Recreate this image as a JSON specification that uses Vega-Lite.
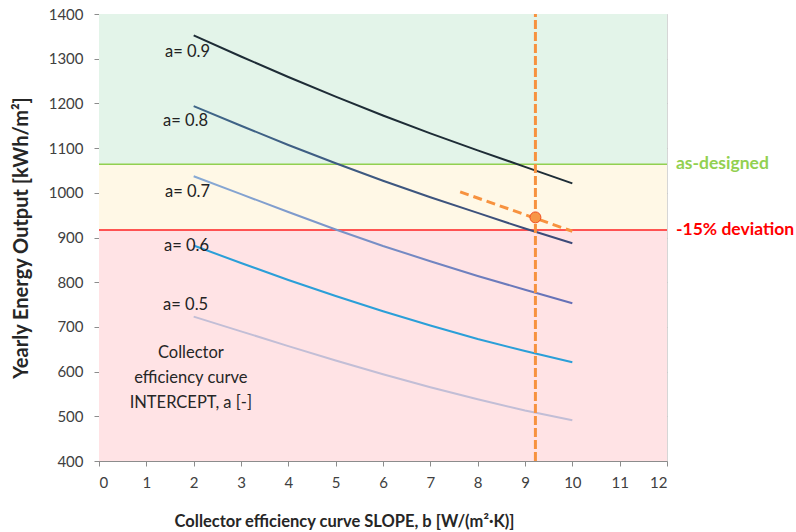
{
  "$schema": "https://vega.github.io/schema/vega-lite/v6.json",
  "width": 568,
  "height": 447,
  "autosize": {"type": "none"},
  "padding": {"left": 99, "top": 14, "right": 129, "bottom": 71},
  "background": "white",
  "config": {
    "font": "Lato",
    "view": {"stroke": null},
    "axis": {
      "grid": true,
      "gridColor": "#b4b4b4",
      "gridOpacity": 0.55,
      "domainColor": "#8c8c8c",
      "tickColor": "#8c8c8c",
      "tickSize": 5,
      "labelFont": "Lato",
      "labelFontSize": 15,
      "labelColor": "#404040",
      "titleFont": "Lato",
      "titleFontWeight": "bold",
      "titleColor": "#262626",
      "zindex": 1
    }
  },
  "datasets": {
    "bands": [
      {"band": "ok", "b": 0, "b2": 12, "E": 1064, "E2": 1400},
      {"band": "warn", "b": 0, "b2": 12, "E": 917, "E2": 1064},
      {"band": "bad", "b": 0, "b2": 12, "E": 400, "E2": 917}
    ],
    "curves": [
      {"a": 0.9, "b": 2, "E": 1352}, {"a": 0.9, "b": 3, "E": 1305}, {"a": 0.9, "b": 4, "E": 1259}, {"a": 0.9, "b": 5, "E": 1215}, {"a": 0.9, "b": 6, "E": 1173}, {"a": 0.9, "b": 7, "E": 1133}, {"a": 0.9, "b": 8, "E": 1095}, {"a": 0.9, "b": 9, "E": 1058}, {"a": 0.9, "b": 10, "E": 1021},
      {"a": 0.8, "b": 2, "E": 1194}, {"a": 0.8, "b": 3, "E": 1150}, {"a": 0.8, "b": 4, "E": 1107}, {"a": 0.8, "b": 5, "E": 1066}, {"a": 0.8, "b": 6, "E": 1027}, {"a": 0.8, "b": 7, "E": 990}, {"a": 0.8, "b": 8, "E": 955}, {"a": 0.8, "b": 9, "E": 920}, {"a": 0.8, "b": 10, "E": 887},
      {"a": 0.7, "b": 2, "E": 1037}, {"a": 0.7, "b": 3, "E": 997}, {"a": 0.7, "b": 4, "E": 957}, {"a": 0.7, "b": 5, "E": 918}, {"a": 0.7, "b": 6, "E": 881}, {"a": 0.7, "b": 7, "E": 847}, {"a": 0.7, "b": 8, "E": 814}, {"a": 0.7, "b": 9, "E": 783}, {"a": 0.7, "b": 10, "E": 753},
      {"a": 0.6, "b": 2, "E": 882}, {"a": 0.6, "b": 3, "E": 843}, {"a": 0.6, "b": 4, "E": 805}, {"a": 0.6, "b": 5, "E": 769}, {"a": 0.6, "b": 6, "E": 735}, {"a": 0.6, "b": 7, "E": 703}, {"a": 0.6, "b": 8, "E": 673}, {"a": 0.6, "b": 9, "E": 646}, {"a": 0.6, "b": 10, "E": 621},
      {"a": 0.5, "b": 2, "E": 723}, {"a": 0.5, "b": 3, "E": 690}, {"a": 0.5, "b": 4, "E": 657}, {"a": 0.5, "b": 5, "E": 625}, {"a": 0.5, "b": 6, "E": 594}, {"a": 0.5, "b": 7, "E": 565}, {"a": 0.5, "b": 8, "E": 538}, {"a": 0.5, "b": 9, "E": 513}, {"a": 0.5, "b": 10, "E": 491}
    ],
    "alabels": [
      {"b": 1.87, "E": 1316, "text": "a= 0.9"},
      {"b": 1.83, "E": 1161, "text": "a= 0.8"},
      {"b": 1.87, "E": 1002, "text": "a= 0.7"},
      {"b": 1.85, "E": 881, "text": "a= 0.6"},
      {"b": 1.83, "E": 749, "text": "a= 0.5"}
    ],
    "note": [
      {"b": 1.94, "E": 642, "text": "Collector"},
      {"b": 1.94, "E": 586, "text": "efficiency curve"},
      {"b": 1.94, "E": 530, "text": "INTERCEPT, a [-]"}
    ],
    "thresholds": [
      {"kind": "as-designed", "b": 0, "b2": 12, "E": 1064},
      {"kind": "-15% deviation", "b": 0, "b2": 12, "E": 917}
    ],
    "tlabels": [
      {"kind": "as-designed", "b": 12.19, "E": 1064},
      {"kind": "-15% deviation", "b": 12.19, "E": 917}
    ],
    "operating": [{"b": 9.22, "E": 945, "Elo": 400, "Ehi": 1400}],
    "trend": [{"b": 7.63, "E": 1002}, {"b": 10.0, "E": 914}]
  },
  "encoding": {
    "x": {
      "field": "b",
      "type": "quantitative",
      "scale": {"domain": [0, 12], "nice": false, "zero": false},
      "axis": {
        "title": "Collector efficiency curve SLOPE, b [W/(m²·K)]",
        "titleFontSize": 16.5,
        "values": [0, 1, 2, 3, 4, 5, 6, 7, 8, 9, 10, 11, 12],
        "labelPadding": 9,
        "titleX": 245,
        "titleY": 60,
        "titleAlign": "center",
        "titleBaseline": "middle"
      }
    },
    "y": {
      "field": "E",
      "type": "quantitative",
      "scale": {"domain": [400, 1400], "nice": false, "zero": false},
      "axis": {
        "title": "Yearly Energy Output [kWh/m²]",
        "titleFontSize": 20,
        "format": "d",
        "values": [400, 500, 600, 700, 800, 900, 1000, 1100, 1200, 1300, 1400],
        "labelPadding": 11,
        "titlePadding": 17
      }
    }
  },
  "layer": [
    {
      "data": {"name": "bands"},
      "mark": {"type": "rect"},
      "encoding": {
        "x2": {"field": "b2"},
        "y2": {"field": "E2"},
        "color": {
          "field": "band",
          "type": "nominal",
          "scale": {"domain": ["ok", "warn", "bad"], "range": ["#e3f4e9", "#fff8e6", "#ffe3e5"]},
          "legend": null
        }
      }
    },
    {
      "data": {"name": "thresholds"},
      "mark": {"type": "rule", "strokeWidth": 1.5},
      "encoding": {
        "x2": {"field": "b2"},
        "color": {
          "field": "kind",
          "type": "nominal",
          "scale": {"domain": ["as-designed", "-15% deviation"], "range": ["#92d050", "#ff2020"]},
          "legend": null
        }
      }
    },
    {
      "data": {"name": "tlabels"},
      "mark": {"type": "text", "align": "left", "baseline": "middle", "fontWeight": "bold", "fontSize": 17.5},
      "encoding": {
        "text": {"field": "kind"},
        "color": {
          "field": "kind",
          "type": "nominal",
          "scale": {"domain": ["as-designed", "-15% deviation"], "range": ["#92d050", "#ff0000"]},
          "legend": null
        }
      }
    },
    {
      "data": {"name": "curves"},
      "transform": [{"filter": "datum.a == 0.5"}],
      "mark": {"type": "line", "strokeWidth": 2, "color": "#c2bed6"}
    },
    {
      "data": {"name": "curves"},
      "transform": [{"filter": "datum.a == 0.6"}],
      "mark": {"type": "line", "strokeWidth": 2, "color": "#2b9fd8"}
    },
    {
      "data": {"name": "curves"},
      "transform": [{"filter": "datum.a == 0.7"}],
      "mark": {
        "type": "line",
        "strokeWidth": 2,
        "color": {
          "gradient": "linear", "x1": 0, "y1": 0, "x2": 1, "y2": 0,
          "stops": [{"offset": 0, "color": "#88aad4"}, {"offset": 1, "color": "#6570b6"}]
        }
      }
    },
    {
      "data": {"name": "curves"},
      "transform": [{"filter": "datum.a == 0.8"}],
      "mark": {
        "type": "line",
        "strokeWidth": 2,
        "color": {
          "gradient": "linear", "x1": 0, "y1": 0, "x2": 1, "y2": 0,
          "stops": [{"offset": 0, "color": "#3f6688"}, {"offset": 1, "color": "#3c4a78"}]
        }
      }
    },
    {
      "data": {"name": "curves"},
      "transform": [{"filter": "datum.a == 0.9"}],
      "mark": {"type": "line", "strokeWidth": 2, "color": "#1e2c36"}
    },
    {
      "data": {"name": "alabels"},
      "mark": {"type": "text", "align": "center", "baseline": "middle", "fontSize": 16.5, "color": "#222222"},
      "encoding": {"text": {"field": "text"}}
    },
    {
      "data": {"name": "note"},
      "mark": {"type": "text", "align": "center", "baseline": "middle", "fontSize": 16.5, "color": "#262626"},
      "encoding": {"text": {"field": "text"}}
    },
    {
      "data": {"name": "operating"},
      "mark": {"type": "rule", "strokeWidth": 3, "strokeDash": [9, 3], "color": "#f7923f"},
      "encoding": {"y": {"field": "Elo"}, "y2": {"field": "Ehi"}}
    },
    {
      "data": {"name": "trend"},
      "mark": {"type": "line", "strokeWidth": 3, "strokeDash": [9, 5], "color": "#f7923f"}
    },
    {
      "data": {"name": "operating"},
      "mark": {"type": "point", "filled": true, "size": 120, "color": "#f79646", "stroke": "#f04e23", "strokeWidth": 1, "opacity": 1}
    }
  ],
  "resolve": {"scale": {"color": "independent"}}
}
